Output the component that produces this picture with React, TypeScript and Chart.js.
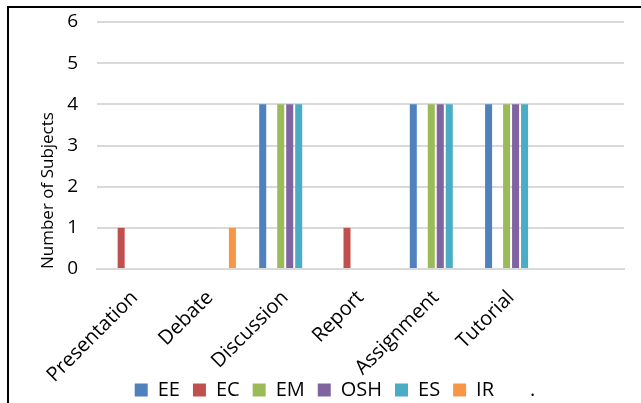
import React, { useEffect, useRef } from "react";
import { Chart, registerables } from "chart.js";

Chart.register(...registerables);

const categories = ["Presentation", "Debate", "Discussion", "Report", "Assignment", "Tutorial", ""];
const EE = [0, 0, 4, 0, 4, 4, 0];
const EC = [1, 0, 0, 1, 0, 0, 0];
const EM = [0, 0, 4, 0, 4, 4, 0];
const OSH = [0, 0, 4, 0, 4, 4, 0];
const ES = [0, 0, 4, 0, 4, 4, 0];
const IR = [0, 1, 0, 0, 0, 0, 0];
const yTicks = [0, 1, 2, 3, 4, 5, 6];

const FONT = "'Open Sans', sans-serif";

export default function App() {
  const ref = useRef<HTMLCanvasElement | null>(null);
  useEffect(() => {
    document.documentElement.style.overflow = "hidden";
    const canvas = ref.current!;
    const mk = (label: string, data: number[], color: string) => ({
      label,
      data,
      backgroundColor: color,
      borderWidth: 0,
      categoryPercentage: 0.717,
      barPercentage: 0.78,
    });
    const chart = new Chart(canvas, {
      type: "bar",
      data: {
        labels: categories,
        datasets: [
          mk("EE", EE, "#4F81BD"),
          mk("EC", EC, "#C0504D"),
          mk("EM", EM, "#9BBB59"),
          mk("OSH", OSH, "#8064A2"),
          mk("ES", ES, "#4BACC6"),
          mk("IR", IR, "#F79646"),
        ],
      },
      options: {
        animation: false,
        responsive: false,
        maintainAspectRatio: false,
        layout: { padding: { left: 37, right: 37, top: 14, bottom: 0 } },
        plugins: {
          tooltip: { enabled: false },
          legend: {
            position: "bottom",
            labels: {
              font: { family: FONT, size: 20 },
              color: "#000",
              boxWidth: 13,
              boxHeight: 13,
              padding: 13,
              generateLabels: (ch: any) => {
                const base = Chart.defaults.plugins.legend.labels.generateLabels(ch);
                base.forEach((l: any) => { l.lineWidth = 0; l.strokeStyle = "rgba(0,0,0,0)"; });
                base.push({
                  text: ".",
                  fillStyle: "rgba(0,0,0,0)",
                  strokeStyle: "rgba(0,0,0,0)",
                  lineWidth: 0,
                  hidden: false,
                  datasetIndex: -1,
                } as any);
                return base;
              },
            },
          },
        },
        scales: {
          x: {
            grid: { display: false, drawTicks: false },
            border: { display: true, color: "#d9d9d9", width: 2 },
            ticks: {
              font: { family: FONT, size: 20 },
              color: "#000",
              maxRotation: 45,
              minRotation: 45,
              padding: 17,
              autoSkip: false,
            },
            afterFit: (s: any) => {
              s.height = 98;
              s.paddingLeft = 0;
              s.paddingRight = 0;
              s._computeLabelArea = () => undefined;
            },
          },
          y: {
            min: 0,
            max: 6,
            afterBuildTicks: (s: any) => { s.ticks = yTicks.map((v) => ({ value: v })); },
            grid: { color: "#d9d9d9", lineWidth: 2, drawTicks: false },
            border: { display: false },
            ticks: {
              font: { family: FONT, size: 19 },
              color: "#000",
              padding: 19,
            },
            title: {
              display: true,
              text: "Number of Subjects",
              align: "start",
              font: { family: FONT, size: 17 },
              color: "#000",
              padding: { top: -8, bottom: 0 },
            },
            afterFit: (s: any) => {
              s.width = 51;
              s.paddingTop = 0;
              s.paddingBottom = 0;
            },
          },
        },
      },
    });
    return () => chart.destroy();
  }, []);
  return (
    <div
      style={{
        position: "fixed",
        left: 7,
        top: 6,
        width: 634,
        height: 397,
        borderLeft: "2px solid #000",
        borderTop: "2px solid #000",
        overflow: "hidden",
        background: "#fff",
      }}
    >
      <canvas ref={ref} width={652} height={402} style={{ display: "block", width: 652, height: 402 }} />
    </div>
  );
}
